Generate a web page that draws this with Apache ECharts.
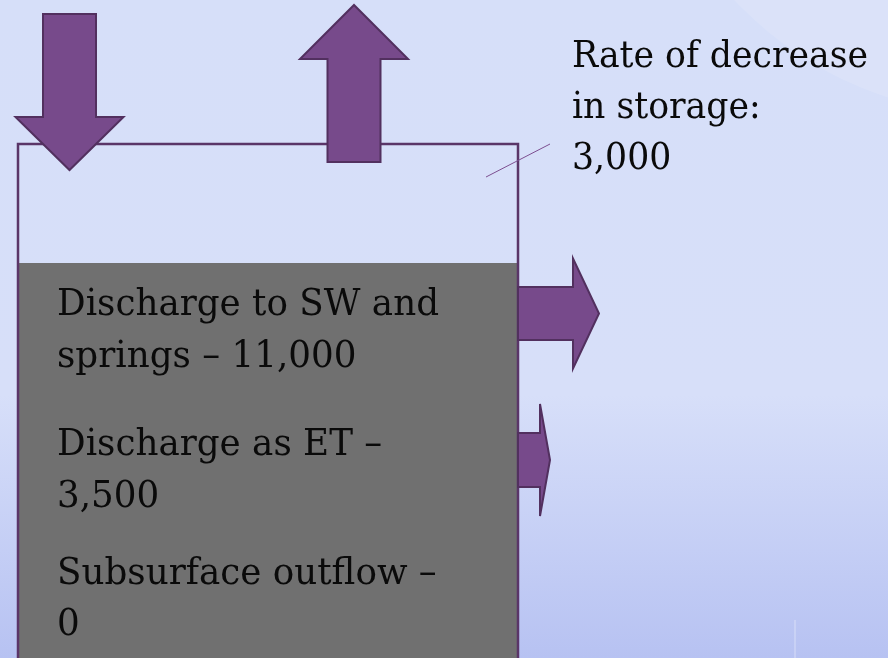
<!DOCTYPE html>
<html>
<head>
<meta charset="utf-8">
<script src="https://cdn.jsdelivr.net/npm/echarts@6/dist/echarts.min.js"></script>
<style>
  html, body { margin: 0; padding: 0; }
  #chart { width: 888px; height: 658px; }
</style>
</head>
<body>
<div id="chart"></div>
<script>
// text shown in the diagram
const outflowLines = [
  ['Discharge to SW and', 'springs \u2013 11,000'],
  ['Discharge as ET \u2013', '3,500'],
  ['Subsurface outflow \u2013', '0']
];
const storageLines = ['Rate of decrease', 'in storage:', '3,000'];

// layout in pixel units (axes run 0..888 and 0..658)
const box = { left: 18, right: 518, top: 144, water: 263, bottom: 670 };
const arrows = [
  { dir: 'down', c: 69.5, shaftW: 53, headW: 108, start: 14, headAt: 117, tip: 170 },
  { dir: 'up', c: 354, shaftW: 53, headW: 108, start: 162, headAt: 59, tip: 5 },
  { dir: 'right', c: 313.5, shaftW: 53, headW: 110, start: 518, headAt: 573, tip: 599 },
  { dir: 'right', c: 460, shaftW: 54, headW: 112, start: 518, headAt: 540, tip: 550 }
];
const textFont = 'DejaVu Serif';

const chart = echarts.init(document.getElementById('chart'));

// measure text to squeeze it to the reference widths
const ctx = document.createElement('canvas').getContext('2d');
function fitScale(lines, size, target) {
  ctx.font = size + 'px "' + textFont + '"';
  let w = 0;
  lines.forEach(function (l) { w = Math.max(w, ctx.measureText(l).width); });
  return target / w;
}

function arrowPoints(a) {
  const s = a.shaftW / 2, h = a.headW / 2;
  let pts;
  if (a.dir === 'right') {
    pts = [[a.start, a.c - s], [a.headAt, a.c - s], [a.headAt, a.c - h], [a.tip, a.c],
      [a.headAt, a.c + h], [a.headAt, a.c + s], [a.start, a.c + s]];
  } else {
    pts = [[a.c - s, a.start], [a.c + s, a.start], [a.c + s, a.headAt], [a.c + h, a.headAt],
      [a.c, a.tip], [a.c - h, a.headAt], [a.c - s, a.headAt]];
  }
  return pts;
}

function renderItem(params, api) {
  const P = function (x, y) { return api.coord([x, y]); };
  const children = [];
  const tl = P(box.left, box.water), br = P(box.right, box.bottom);
  // gray groundwater
  children.push({ type: 'rect', shape: { x: tl[0], y: tl[1], width: br[0] - tl[0], height: br[1] - tl[1] },
    style: { fill: '#707070' } });
  // box outline
  children.push({ type: 'polyline', shape: { points: [P(box.left, box.bottom), P(box.left, box.top), P(box.right, box.top), P(box.right, box.bottom)] },
    style: { stroke: '#5a3568', lineWidth: 2.5, fill: null } });
  // callout line
  children.push({ type: 'line', shape: { x1: P(486, 177)[0], y1: P(486, 177)[1], x2: P(550, 144)[0], y2: P(550, 144)[1] },
    style: { stroke: '#7d4f91', lineWidth: 1 } });
  // arrows
  arrows.forEach(function (a) {
    children.push({ type: 'polygon', shape: { points: arrowPoints(a).map(function (p) { return P(p[0], p[1]); }) },
      style: { fill: '#774a8b', stroke: '#52305f', lineWidth: 2 } });
  });
  // outflow text in the box
  const bSize = 38;
  const bScale = fitScale([].concat.apply([], outflowLines), bSize, 382);
  const baselines = [[315, 367], [455, 507], [584, 635]];
  outflowLines.forEach(function (para, i) {
    para.forEach(function (line, j) {
      const p = P(57, baselines[i][j] + 9);
      children.push({ type: 'text', x: p[0], y: p[1], scaleX: bScale,
        style: { text: line, font: bSize + 'px "' + textFont + '"', fill: '#0a0a0a', align: 'left', verticalAlign: 'bottom' } });
    });
  });
  // storage text
  const sSize = 37;
  const sScale = fitScale(storageLines, sSize, 296);
  storageLines.forEach(function (line, j) {
    const p = P(572, 68 + j * 51 + 8);
    children.push({ type: 'text', x: p[0], y: p[1], scaleX: sScale,
      style: { text: line, font: sSize + 'px "' + textFont + '"', fill: '#0a0a0a', align: 'left', verticalAlign: 'bottom' } });
  });
  return { type: 'group', children: children };
}

chart.setOption({
  backgroundColor: new echarts.graphic.LinearGradient(0, 0, 0, 1, [
    { offset: 0, color: '#d6dff9' },
    { offset: 0.6, color: '#d7dff9' },
    { offset: 1, color: '#b7c2f2' }
  ]),
  animation: false,
  graphic: [
    // faint light disc in the top right corner of the slide
    { type: 'circle', shape: { cx: 1000, cy: -250, r: 365 }, style: { fill: 'rgba(255,255,255,0.12)' }, silent: true },
    { type: 'line', shape: { x1: 795, y1: 620, x2: 795, y2: 658 }, style: { stroke: 'rgba(255,255,255,0.45)', lineWidth: 1 }, silent: true }
  ],
  grid: { left: 0, right: 0, top: 0, bottom: 0 },
  xAxis: { type: 'value', min: 0, max: 888, show: false },
  yAxis: { type: 'value', min: 0, max: 658, inverse: true, show: false },
  series: [{
    type: 'custom',
    coordinateSystem: 'cartesian2d',
    clip: false,
    data: [[0, 0]],
    renderItem: renderItem
  }]
});
</script>
</body>
</html>
